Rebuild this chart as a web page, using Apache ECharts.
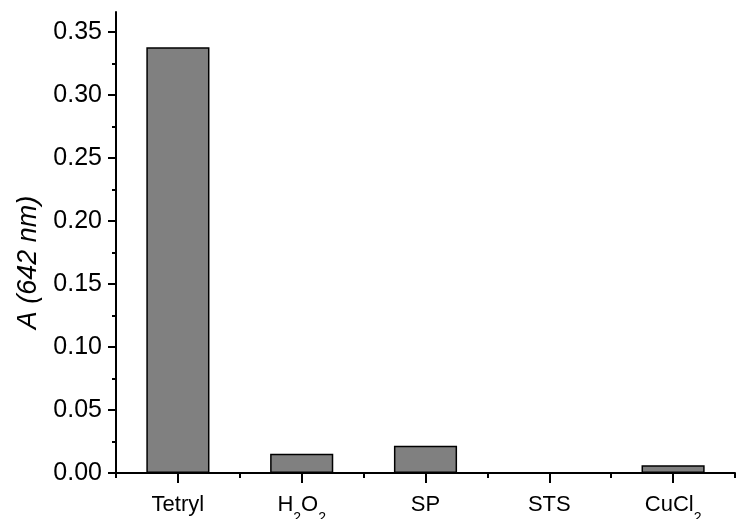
<!DOCTYPE html>
<html>
<head>
<meta charset="utf-8">
<script src="https://cdn.jsdelivr.net/npm/echarts@6/dist/echarts.min.js"></script>
<style>
  html, body { margin: 0; padding: 0; background: #fff; }
  #main { width: 737px; height: 519px; }
</style>
</head>
<body>
<div id="main"></div>
<script>
const categories = ["Tetryl", "H{sub|2}O{sub|2}", "SP", "STS", "CuCl{sub|2}"];
const absorbance = [0.338, 0.0153, 0.0217, 0, 0.0061];
const yMajorTicks = [0, 0.05, 0.10, 0.15, 0.20, 0.25, 0.30, 0.35];
const yMinorTicks = [0.025, 0.075, 0.125, 0.175, 0.225, 0.275, 0.325];
const yRange = [0, 0.366];

const font = "'Liberation Sans', Arial, sans-serif";

var myChart = echarts.init(document.getElementById('main'), null, { renderer: 'canvas' });
myChart.setOption({
  animation: false,
  grid: { left: 116, right: 2, top: 12, bottom: 46, outerBoundsMode: 'none', containLabel: false },
  xAxis: [{
    type: 'category',
    data: categories,
    axisLine: { show: true, lineStyle: { color: '#000', width: 2 } },
    axisTick: { show: true, interval: 0, alignWithLabel: true, length: 10, lineStyle: { color: '#000', width: 2 } },
    axisLabel: {
      interval: 0,
      margin: 11,
      color: '#000',
      fontFamily: font,
      fontSize: 22,
      lineHeight: 41,
      rich: {
        sub: { fontFamily: font, fontSize: 14, color: '#000', verticalAlign: 'bottom', lineHeight: 14 }
      }
    }
  }, {
    type: 'category',
    position: 'bottom',
    data: categories,
    axisLine: { show: false },
    axisTick: { show: true, interval: 0, length: 5, lineStyle: { color: '#000', width: 2 } },
    axisLabel: { show: false }
  }],
  yAxis: [{
    type: 'value',
    min: yRange[0],
    max: yRange[1],
    name: 'A (642 nm)',
    nameLocation: 'middle',
    nameGap: 74,
    nameTextStyle: { fontFamily: font, fontStyle: 'italic', fontSize: 27, color: '#000', padding: [0, 40, 0, 0] },
    axisLine: { show: true, lineStyle: { color: '#000', width: 2 } },
    axisTick: { show: true, customValues: yMajorTicks, length: 8, lineStyle: { color: '#000', width: 2 } },
    splitLine: { show: false },
    axisLabel: {
      customValues: yMajorTicks,
      margin: 14,
      color: '#000',
      fontFamily: font,
      fontSize: 25,
      formatter: v => v.toFixed(2)
    }
  }, {
    type: 'value',
    position: 'left',
    min: yRange[0],
    max: yRange[1],
    axisLine: { show: false },
    axisTick: { show: true, customValues: yMinorTicks, length: 4, lineStyle: { color: '#000', width: 2 } },
    axisLabel: { show: false },
    splitLine: { show: false }
  }],
  series: [{
    type: 'bar',
    data: absorbance,
    barWidth: '51%',
    itemStyle: { color: '#808080', borderColor: '#000', borderWidth: 1.5 }
  }]
});
</script>
</body>
</html>
